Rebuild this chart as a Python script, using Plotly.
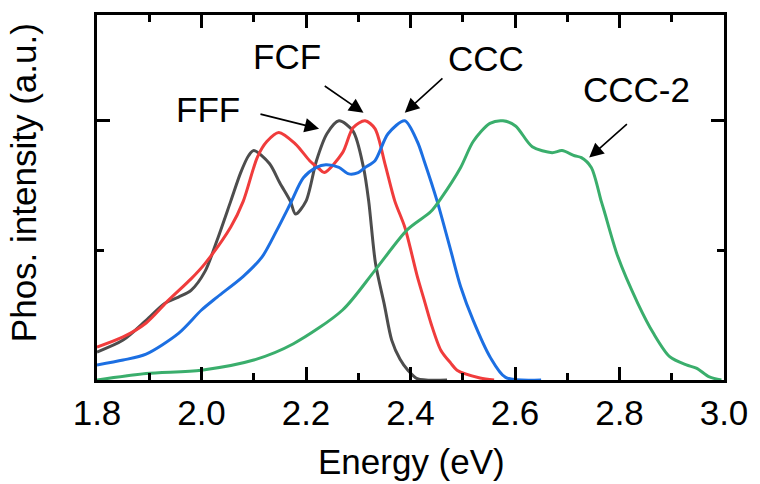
import plotly.graph_objects as go

# ---- data ----
fff_x = [1.80, 1.85, 1.894, 1.93, 1.956, 1.98, 2.007, 2.03, 2.056, 2.075, 2.09, 2.10, 2.13, 2.15, 2.17,
         2.18, 2.20, 2.22, 2.24, 2.263, 2.29, 2.31, 2.32, 2.333, 2.35, 2.364, 2.38, 2.395, 2.413, 2.47]
fff_y = [0.108, 0.154, 0.23, 0.296, 0.32, 0.346, 0.42, 0.54, 0.69, 0.80, 0.865, 0.885, 0.835, 0.76, 0.69,
         0.64, 0.69, 0.846, 0.95, 1.0, 0.96, 0.82, 0.69, 0.45, 0.29, 0.154, 0.08, 0.038, 0.005, 0.0]

fcf_x = [1.80, 1.85, 1.894, 1.937, 1.98, 2.007, 2.056, 2.08, 2.107, 2.125, 2.148, 2.18, 2.207, 2.225,
         2.235, 2.27, 2.29, 2.313, 2.332, 2.351, 2.37, 2.389, 2.413, 2.426, 2.439, 2.458, 2.477, 2.489,
         2.533, 2.56]
fcf_y = [0.127, 0.166, 0.22, 0.308, 0.39, 0.45, 0.59, 0.69, 0.86, 0.92, 0.955, 0.91, 0.846, 0.815,
         0.80, 0.877, 0.973, 1.0, 0.97, 0.835, 0.69, 0.59, 0.40, 0.31, 0.22, 0.115, 0.065, 0.038,
         0.008, 0.0]

ccc_x = [1.80, 1.85, 1.894, 1.956, 2.0, 2.03, 2.08, 2.116, 2.144, 2.17, 2.195, 2.22, 2.238, 2.263,
         2.282, 2.30, 2.313, 2.332, 2.357, 2.389, 2.413, 2.426, 2.451, 2.477, 2.496, 2.52, 2.552,
         2.582, 2.65]
ccc_y = [0.058, 0.077, 0.10, 0.18, 0.27, 0.32, 0.40, 0.475, 0.577, 0.68, 0.78, 0.82, 0.83, 0.82,
         0.795, 0.80, 0.82, 0.846, 0.95, 1.0, 0.92, 0.846, 0.69, 0.50, 0.36, 0.23, 0.09,
         0.01, 0.0]

ccc2_x = [1.80, 1.894, 2.0, 2.1, 2.176, 2.27, 2.332, 2.394, 2.439, 2.458, 2.496, 2.52, 2.552, 2.577,
          2.601, 2.633, 2.671, 2.69, 2.714, 2.727, 2.746, 2.765, 2.771, 2.797, 2.835, 2.865, 2.896,
          2.928, 2.947, 2.972, 2.995]
ccc2_y = [0.0, 0.025, 0.038, 0.077, 0.14, 0.27, 0.423, 0.58, 0.65, 0.70, 0.82, 0.92, 0.99, 1.0,
          0.98, 0.90, 0.877, 0.885, 0.865, 0.858, 0.82, 0.69, 0.65, 0.475, 0.296, 0.18, 0.09,
          0.058, 0.046, 0.012, 0.0]

series_names = ["FFF", "FCF", "CCC", "CCC-2"]
series_colors = ["#4d4d4d", "#f03c3c", "#1c6fe2", "#3aae6c"]

# label positions (text centre) and arrow tail/head in data coords
label_pos = {"FFF": (2.012, 1.045), "FCF": (2.163, 1.248), "CCC": (2.545, 1.24), "CCC-2": (2.833, 1.12)}
arrows = {"FFF": ((2.110, 1.027), (2.225, 0.969)),
          "FCF": ((2.233, 1.138), (2.310, 1.031)),
          "CCC": ((2.464, 1.169), (2.389, 1.031)),
          "CCC-2": ((2.817, 0.992), (2.742, 0.858))}

FONT = "Liberation Sans, Arial, sans-serif"
FS = 35

fig = go.Figure()
for name, xs, ys, col in zip(series_names, [fff_x, fcf_x, ccc_x, ccc2_x],
                             [fff_y, fcf_y, ccc_y, ccc2_y], series_colors):
    fig.add_trace(go.Scatter(x=xs, y=ys, mode="lines", name=name,
                             line=dict(color=col, width=3, shape="spline", smoothing=0.8)))

for name in series_names:
    tx, ty = label_pos[name]
    fig.add_annotation(x=tx, y=ty, xref="x", yref="y", text=name, showarrow=False,
                       font=dict(family=FONT, size=FS, color="black"),
                       xanchor="center", yanchor="middle")
    (ax_, ay_), (hx, hy) = arrows[name]
    fig.add_annotation(x=hx, y=hy, ax=ax_, ay=ay_, xref="x", yref="y", axref="x", ayref="y",
                       text="", showarrow=True, arrowhead=2, arrowsize=1.8, arrowwidth=1.6,
                       arrowcolor="black", standoff=0, startstandoff=0)

# axis titles
fig.add_annotation(x=0.501, y=-0.224, xref="paper", yref="paper", text="Energy (eV)", showarrow=False,
                   font=dict(family=FONT, size=FS, color="black"), xanchor="center", yanchor="middle")
fig.add_annotation(x=-0.116, y=0.54, xref="paper", yref="paper", text="Phos. intensity (a.u.)",
                   showarrow=False, textangle=-90,
                   font=dict(family=FONT, size=FS, color="black"), xanchor="center", yanchor="middle")

axis_common = dict(showline=True, linewidth=3, linecolor="black", mirror="ticks",
                   ticks="inside", ticklen=13, tickwidth=2.5, tickcolor="black",
                   showgrid=False, zeroline=False)

fig.update_xaxes(range=[1.8, 3.0], tick0=1.8, dtick=0.2, tickformat=".1f",
                 tickfont=dict(family=FONT, size=FS, color="black"),
                 minor=dict(ticks="inside", ticklen=7, tickwidth=2.5, dtick=0.1, tick0=1.8,
                            tickcolor="black"),
                 **axis_common)
fig.update_yaxes(range=[0, 1.408], tick0=0, dtick=1, showticklabels=False,
                 minor=dict(ticks="inside", ticklen=7, tickwidth=2.5, dtick=0.5, tick0=0,
                            tickcolor="black"),
                 **axis_common)

fig.update_layout(width=760, height=484, margin=dict(l=97, r=25, t=14, b=104),
                  plot_bgcolor="white", paper_bgcolor="white", showlegend=False,
                  font=dict(family=FONT, color="black"))

# remove the browser's default body margin and scrollbars so the figure fills the window
fig.write_html("out.html",
               config={"displayModeBar": False},
               post_script="document.body.style.margin='0';"
                           "document.documentElement.style.overflow='hidden';"
                           "document.body.style.overflow='hidden';")
